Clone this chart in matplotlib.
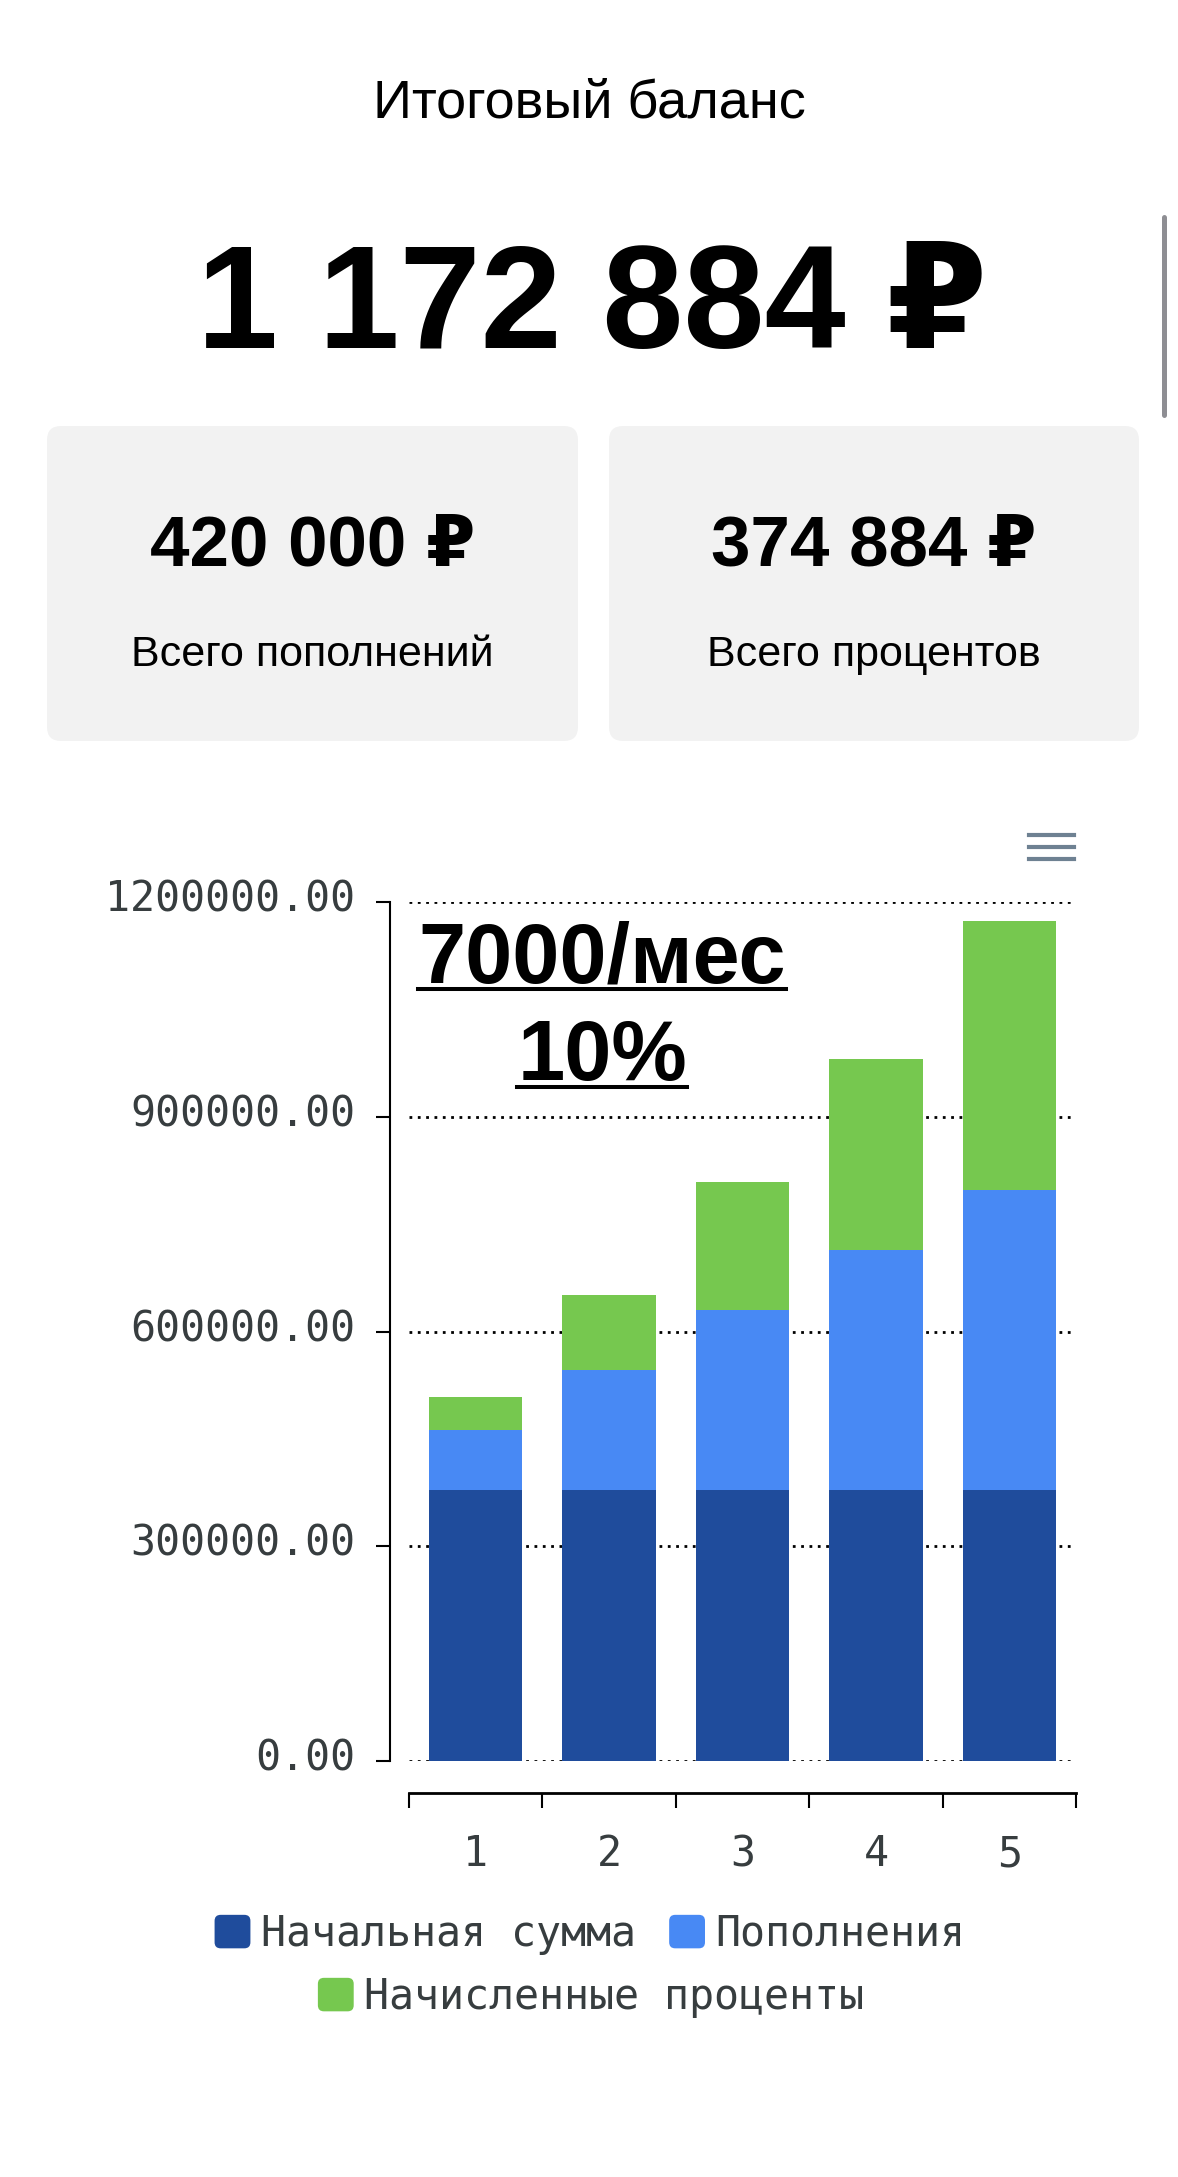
import matplotlib
matplotlib.use('Agg')
import numpy as np
import matplotlib.pyplot as plt
from matplotlib.patches import FancyBboxPatch, Rectangle
from matplotlib.lines import Line2D
from matplotlib.ticker import FormatStrFormatter
from matplotlib.transforms import ScaledTranslation
from matplotlib.legend_handler import HandlerPatch

plt.rcParams['font.family'] = ['Liberation Sans', 'DejaVu Sans']

# Данные по годам
years = [1, 2, 3, 4, 5]
initial = [378000, 378000, 378000, 378000, 378000]
deposits = [84000, 168000, 252000, 336000, 420000]
interest = [46200, 105200, 178400, 267000, 374884]
series_names = ['Начальная сумма', 'Пополнения', 'Начисленные проценты']
yticks = [0, 300000, 600000, 900000, 1200000]
note_lines = ['7000/мес', '10%']

colors = ['#1f4c9c', '#4889f4', '#76c84f']
label_color = '#373d3f'
mono = 'DejaVu Sans Mono'

W, H = 1178, 2177
fig = plt.figure(figsize=(W / 100, H / 100), dpi=100)


def fx(x):
    return x / W


def fy(y):
    return 1 - y / H


def rub(v):
    return f'{v:,}'.replace(',', ' ') + ' ₽'


class RoundSquare(HandlerPatch):
    # скруглённые квадратики в легенде
    def create_artists(self, legend, orig_handle, xdescent, ydescent,
                       width, height, fontsize, trans):
        p = FancyBboxPatch((-xdescent, -ydescent), width, height,
                           boxstyle=f'round,pad=0,rounding_size={height * 0.18}',
                           facecolor=orig_handle.get_facecolor(),
                           edgecolor='none', transform=trans)
        return [p]


total = initial[-1] + deposits[-1] + interest[-1]

# Шапка
fig.text(0.5, fy(118), 'Итоговый баланс', ha='center', va='baseline', fontsize=39)
fig.text(fx(592), fy(348), rub(total), ha='center', va='baseline',
         fontsize=105, fontweight='bold')

# полоса прокрутки
fig.add_artist(Line2D([fx(1164), fx(1164)], [fy(217), fy(415)], lw=3.6,
                      color='#8e8e93', solid_capstyle='round'))

# Карточки
for x0, x1, value, caption in [(47, 578, deposits[-1], 'Всего пополнений'),
                               (609, 1139, interest[-1], 'Всего процентов')]:
    card = FancyBboxPatch((x0 / 100, (H - 741) / 100), (x1 - x0) / 100, 3.15,
                          boxstyle='round,pad=0,rounding_size=0.14',
                          transform=fig.dpi_scale_trans,
                          facecolor='#f2f2f2', edgecolor='none', zorder=0)
    fig.add_artist(card)
    cx = fx((x0 + x1) / 2)
    fig.text(cx, fy(565), rub(value), ha='center', va='baseline',
             fontsize=51, fontweight='bold')
    fig.text(cx, fy(666), caption, ha='center', va='baseline', fontsize=31)

# Меню-иконка
for yy in [835, 847, 859]:
    fig.add_artist(Line2D([fx(1029), fx(1074)], [fy(yy), fy(yy)], lw=3,
                          color='#6e8192'))

# График
ax = fig.add_axes([fx(409), fy(1761), (1076 - 409) / W, (1761 - 902) / H])
x = np.array(years)
bottom2 = np.array(initial)
bottom3 = bottom2 + np.array(deposits)
b1 = ax.bar(x, initial, 0.7, color=colors[0], label=series_names[0], zorder=2)
b2 = ax.bar(x, deposits, 0.7, bottom=bottom2, color=colors[1],
            label=series_names[1], zorder=2)
b3 = ax.bar(x, interest, 0.7, bottom=bottom3, color=colors[2],
            label=series_names[2], zorder=2)

ax.set_xlim(0.5, len(years) + 0.5)
ax.set_ylim(0, yticks[-1])
ax.set_yticks(yticks)
ax.yaxis.set_major_formatter(FormatStrFormatter('%.2f'))
ax.yaxis.grid(True, color='black', linestyle=(0, (1, 2)), linewidth=2)
ax.set_axisbelow(True)

for s in ['top', 'right']:
    ax.spines[s].set_visible(False)
ax.spines['left'].set_position(('outward', 13.7))
ax.spines['bottom'].set_position(('outward', 23))
ax.spines['left'].set_linewidth(1.5)
ax.spines['bottom'].set_linewidth(2)

ax.tick_params(axis='y', length=10, width=1.5, pad=15, labelsize=30,
               labelcolor=label_color, labelfontfamily=mono)
for lab in ax.get_yticklabels():
    lab.set_transform(lab.get_transform() +
                      ScaledTranslation(0, 0.07, fig.dpi_scale_trans))
ax.set_xticks(np.arange(len(years) + 1) + 0.5)
ax.set_xticklabels([])
ax.set_xticks(years, [str(y) for y in years], minor=True)
ax.tick_params(axis='x', which='major', length=11, width=1.5)
ax.tick_params(axis='x', which='minor', length=0, pad=29, labelsize=30,
               labelcolor=label_color, labelfontfamily=mono)

# Подпись на графике
notes = []
for line, base in zip(note_lines, [982, 1080]):
    t = fig.text(fx(602), fy(base), line, ha='center', va='baseline',
                 fontsize=61, fontweight='bold')
    notes.append((t, base))

# Легенда
leg_kw = dict(loc='center', frameon=False, handlelength=0.86, handleheight=0.86,
              handletextpad=0.25, columnspacing=0.8, labelcolor=label_color,
              prop={'family': mono, 'size': 30}, borderpad=0, borderaxespad=0,
              handler_map={Rectangle: RoundSquare()})
fig.legend([b1.patches[0], b2.patches[0]], series_names[:2], ncol=2,
           bbox_to_anchor=(fx(590), fy(1934)), **leg_kw)
fig.legend([b3.patches[0]], series_names[2:], ncol=1,
           bbox_to_anchor=(fx(591), fy(1997)), **leg_kw)

# подчёркивание
fig.canvas.draw()
inv = fig.transFigure.inverted()
for t, base in notes:
    bb = t.get_window_extent()
    x0 = inv.transform((bb.x0, 0))[0]
    x1 = inv.transform((bb.x1, 0))[0]
    fig.add_artist(Line2D([x0, x1], [fy(base + 7), fy(base + 7)], lw=2.9,
                          color='black'))

fig.savefig('out.png', dpi=100)
